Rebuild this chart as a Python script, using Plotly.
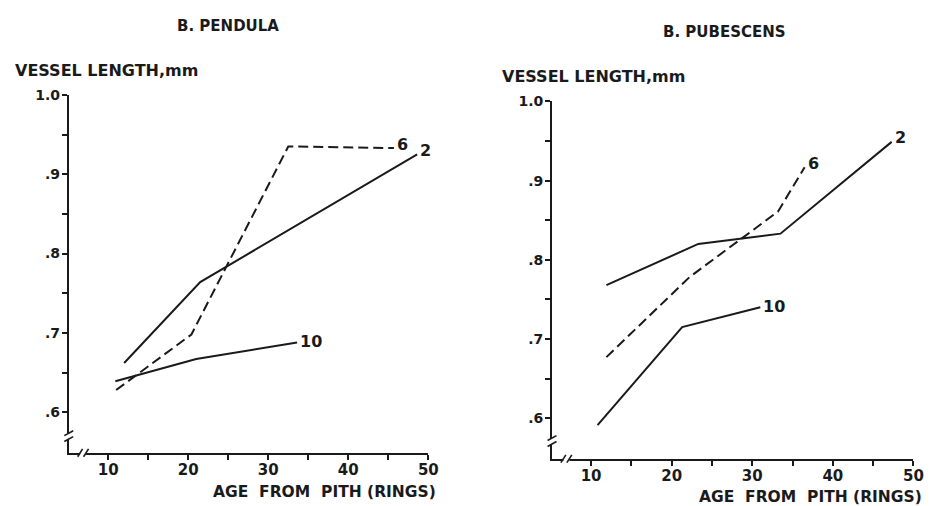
import plotly.graph_objects as go

# Vessel length (mm) against age from pith (rings), at three sampling heights
SERIES_NAMES = ["2", "6", "10"]

# B. pendula
pend_age_2 = [12.0, 21.5, 48.6]
pend_len_2 = [0.662, 0.764, 0.925]
pend_age_6 = [11.0, 20.4, 32.5, 45.7]
pend_len_6 = [0.628, 0.698, 0.935, 0.933]
pend_age_10 = [10.9, 21.0, 33.6]
pend_len_10 = [0.639, 0.667, 0.688]

# B. pubescens
pub_age_2 = [11.9, 23.3, 33.5, 47.3]
pub_len_2 = [0.768, 0.820, 0.833, 0.949]
pub_age_6 = [11.9, 22.2, 33.2, 36.5]
pub_len_6 = [0.677, 0.778, 0.861, 0.917]
pub_age_10 = [10.8, 21.3, 31.0]
pub_len_10 = [0.591, 0.715, 0.740]

Y_TICKS = [0.6, 0.7, 0.8, 0.9, 1.0]
Y_TICK_TEXT = [".6", ".7", ".8", ".9", "1.0"]
Y_MINOR = [0.65, 0.75, 0.85, 0.95]
X_TICKS = [10, 20, 30, 40, 50]
X_TICK_TEXT = ["10", "20", "30", "40", "50"]
X_MINOR = [15, 25, 35, 45]

INK = "#1a1a1a"
FONT = "DejaVu Sans"
W, H = 934, 506

fig = go.Figure()

panels = [
    ("x", "y", [(pend_age_2, pend_len_2, "solid"),
                (pend_age_6, pend_len_6, "10px,5px"),
                (pend_age_10, pend_len_10, "solid")]),
    ("x2", "y2", [(pub_age_2, pub_len_2, "solid"),
                  (pub_age_6, pub_len_6, "10px,5px"),
                  (pub_age_10, pub_len_10, "solid")]),
]

for xa, ya, series in panels:
    for name, (ages, lens, dash) in zip(SERIES_NAMES, series):
        fig.add_trace(go.Scatter(
            x=ages, y=lens, mode="lines", xaxis=xa, yaxis=ya,
            line=dict(color=INK, width=2, dash=dash),
            hoverinfo="skip", showlegend=False,
        ))
        # series label at the end of each curve
        fig.add_annotation(
            x=ages[-1], y=lens[-1], xref=xa, yref=ya, text=name,
            showarrow=False, xanchor="left", yanchor="middle",
            xshift=1, yshift=4 if name != "10" else 1,
            font=dict(family=FONT, size=16, color=INK, weight="bold"),
        )


def px_x(p):
    return p / W


def px_y(p):
    return 1 - p / H


axis_common = dict(
    showline=True, linecolor=INK, linewidth=1.8,
    showgrid=False, zeroline=False,
    ticks="outside", ticklen=5, tickwidth=1.5, tickcolor=INK,
)
x_font = dict(family=FONT, size=15, color=INK, weight="bold")
y_font = dict(family=FONT, size=14, color=INK, weight="bold")
x_minor = dict(tickvals=X_MINOR, ticks="outside", ticklen=5,
               tickwidth=1.5, tickcolor=INK)
y_minor = dict(tickvals=Y_MINOR, ticks="outside", ticklen=5,
               tickwidth=1.5, tickcolor=INK)

fig.update_layout(
    width=W, height=H,
    margin=dict(l=0, r=0, t=0, b=0),
    paper_bgcolor="white", plot_bgcolor="white",
    xaxis=dict(domain=[px_x(69.5), px_x(433)], range=[5.08, 50], anchor="y",
               tickvals=X_TICKS, ticktext=X_TICK_TEXT, tickfont=x_font,
               ticklabelstandoff=-3, minor=x_minor, **axis_common),
    yaxis=dict(domain=[px_y(452), px_y(88.3)], range=[0.5488, 1.0], anchor="x",
               tickvals=Y_TICKS, ticktext=Y_TICK_TEXT, tickfont=y_font,
               ticklabelstandoff=-1, minor=y_minor, **axis_common),
    xaxis2=dict(domain=[px_x(558), px_x(923.3)], range=[5.15, 50], anchor="y2",
                tickvals=X_TICKS, ticktext=X_TICK_TEXT, tickfont=x_font,
                ticklabelstandoff=-3, minor=x_minor, **axis_common),
    yaxis2=dict(domain=[px_y(458), px_y(95)], range=[0.5486, 1.0], anchor="x2",
                tickvals=Y_TICKS, ticktext=Y_TICK_TEXT, tickfont=y_font,
                ticklabelstandoff=-1, minor=y_minor, **axis_common),
)


def axis_breaks(ax_x, corner_y, ybreak, xbreak):
    """White gaps with '//' marks on both axes near the origin corner."""
    shapes = []
    # gap on the vertical axis
    shapes.append(dict(type="rect", xref="paper", yref="paper",
                       x0=px_x(ax_x - 4), x1=px_x(ax_x + 4),
                       y0=px_y(ybreak + 3), y1=px_y(ybreak - 3),
                       fillcolor="white", line=dict(width=0), layer="above"))
    for dy in (-3, 3):
        cy = ybreak + dy
        shapes.append(dict(type="line", xref="paper", yref="paper",
                           x0=px_x(ax_x - 4.5), y0=px_y(cy + 2.5),
                           x1=px_x(ax_x + 4.5), y1=px_y(cy - 2.5),
                           line=dict(color=INK, width=1.6), layer="above"))
    # gap on the horizontal axis
    shapes.append(dict(type="rect", xref="paper", yref="paper",
                       x0=px_x(xbreak - 3), x1=px_x(xbreak + 3),
                       y0=px_y(corner_y + 3), y1=px_y(corner_y - 3),
                       fillcolor="white", line=dict(width=0), layer="above"))
    for dx in (-3, 3):
        cx = xbreak + dx
        shapes.append(dict(type="line", xref="paper", yref="paper",
                           x0=px_x(cx - 2.5), y0=px_y(corner_y + 4),
                           x1=px_x(cx + 2.5), y1=px_y(corner_y - 4),
                           line=dict(color=INK, width=1.6), layer="above"))
    return shapes


shapes = axis_breaks(69.5, 452, 435, 84) + axis_breaks(558, 458, 440, 572.5)
fig.update_layout(shapes=shapes)

texts = [
    ("B. PENDULA", 230, 18, "center", 15),
    ("B. PUBESCENS", 732, 24, "center", 15),
    ("VESSEL LENGTH,mm", 13, 63, "left", 16),
    ("VESSEL LENGTH,mm", 505, 70, "left", 16),
    ("AGE  FROM  PITH (RINGS)", 443, 492, "right", 15.5),
    ("AGE  FROM  PITH (RINGS)", 934, 497, "right", 15.5),
]
for txt, tx, ty, anchor, size in texts:
    fig.add_annotation(
        x=px_x(tx), y=px_y(ty), xref="paper", yref="paper", text=txt,
        showarrow=False, xanchor=anchor, yanchor="middle",
        font=dict(family=FONT, size=size, color=INK, weight="bold"),
    )

fig.write_html("out.html")
